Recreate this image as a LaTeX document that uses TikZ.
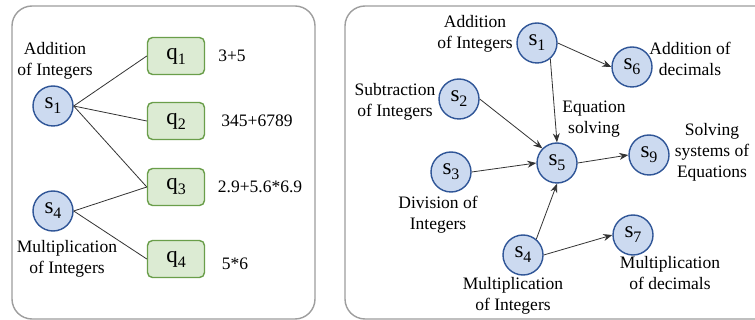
\documentclass[tikz,border=0pt]{standalone}
\usepackage{fontspec}
\newfontfamily\figfont{Liberation Serif}
\usetikzlibrary{arrows.meta}
\definecolor{panelgray}{HTML}{9E9E9E}
\definecolor{stateblue}{HTML}{2F5597}
\definecolor{statefill}{HTML}{CCDAF0}
\definecolor{qgreen}{HTML}{6A9E4A}
\definecolor{qfill}{HTML}{DCEBD3}
\definecolor{edgegray}{HTML}{333333}
% symbol with a lowered index, upright as in the figure
\newcommand{\ix}[2]{#1\raisebox{-5pt}{\figfont\fontsize{16}{16}\selectfont #2}}
\begin{document}
\begin{tikzpicture}[x=1pt,y=-1pt,
  panel/.style={draw=panelgray,line width=1.4pt,rounded corners=20pt},
  state/.style={circle,draw=stateblue,fill=statefill,line width=1.4pt,
    minimum size=40pt,inner sep=0pt,font=\figfont\fontsize{23}{23}\selectfont},
  qbox/.style={draw=qgreen,fill=qfill,line width=1.4pt,rounded corners=5pt,
    minimum width=57pt,minimum height=37pt,inner sep=0pt,font=\figfont\fontsize{23}{23}\selectfont},
  lbl/.style={align=center,inner sep=0pt,font=\figfont\fontsize{17.5}{21}\selectfont},
  link/.style={draw=edgegray,line width=0.8pt},
  arr/.style={draw=edgegray,line width=0.8pt,-{Stealth[length=9pt,width=7pt]}}]
\useasboundingbox (0,0) rectangle (755,320);
\fill[white] (0,0) rectangle (755,320);

% ---------- left panel: skills and questions ----------
\draw[panel] (12,6) rectangle (315,319);
\node[state] (ls1) at (53,106) {\ix{s}{1}};
\node[state] (ls4) at (53,211) {\ix{s}{4}};
\node[qbox] (q1) at (176,56) {\ix{q}{1}};
\node[qbox] (q2) at (176,121) {\ix{q}{2}};
\node[qbox] (q3) at (176,187) {\ix{q}{3}};
\node[qbox] (q4) at (176,259) {\ix{q}{4}};
\node[lbl] (la1) at (55,61) {Addition\\of Integers};
\node[lbl] (la4) at (67,259) {Multiplication\\of Integers};
\node[lbl] (e1) at (232,56) {3+5};
\node[lbl] (e2) at (257,121) {345+6789};
\node[lbl] (e3) at (260,187) {2.9+5.6*6.9};
\node[lbl] (e4) at (235,264) {5*6};
\draw[link] (ls1.east) -- (q1.west);
\draw[link] (ls1.east) -- (q2.west);
\draw[link] (ls1.east) -- (q3.west);
\draw[link] (ls4.east) -- (q3.west);
\draw[link] (ls4.east) -- (q4.west);

% ---------- right panel: skill prerequisite graph ----------
\draw[panel] (345,6) rectangle (775,319);
\node[state] (s1) at (537,43) {\ix{s}{1}};
\node[state] (s6) at (632,67) {\ix{s}{6}};
\node[state] (s2) at (459,99) {\ix{s}{2}};
\node[state] (s5) at (557,163) {\ix{s}{5}};
\node[state] (s9) at (649,155) {\ix{s}{9}};
\node[state] (s3) at (451,172) {\ix{s}{3}};
\node[state] (s4) at (523,255) {\ix{s}{4}};
\node[state] (s7) at (633,235) {\ix{s}{7}};
\node[lbl] (t1) at (475,34) {Addition\\of Integers};
\node[lbl] (t6) at (690,59) {Addition of\\decimals};
\node[lbl] (t2) at (395,102) {Subtraction\\of Integers};
\node[lbl] (t5) at (594,119) {Equation\\solving};
\node[lbl] (t9) at (712,152) {Solving\\systems of\\Equations};
\node[lbl] (t3) at (438,215) {Division of\\Integers};
\node[lbl] (t4) at (513,296) {Multiplication\\of Integers};
\node[lbl] (t7) at (670,273) {Multiplication\\of decimals};
\draw[arr] (s1.east) -- (s6.west);
\draw[arr] (s1.-50) -- (s5.north);
\draw[arr] (s2.east) -- (s5.135);
\draw[arr] (s3.east) -- (s5.west);
\draw[arr] (s5.east) -- (s9.west);
\draw[arr] (s4.50) -- (s5.south);
\draw[arr] (s4.east) -- (s7.west);
\end{tikzpicture}
\end{document}
